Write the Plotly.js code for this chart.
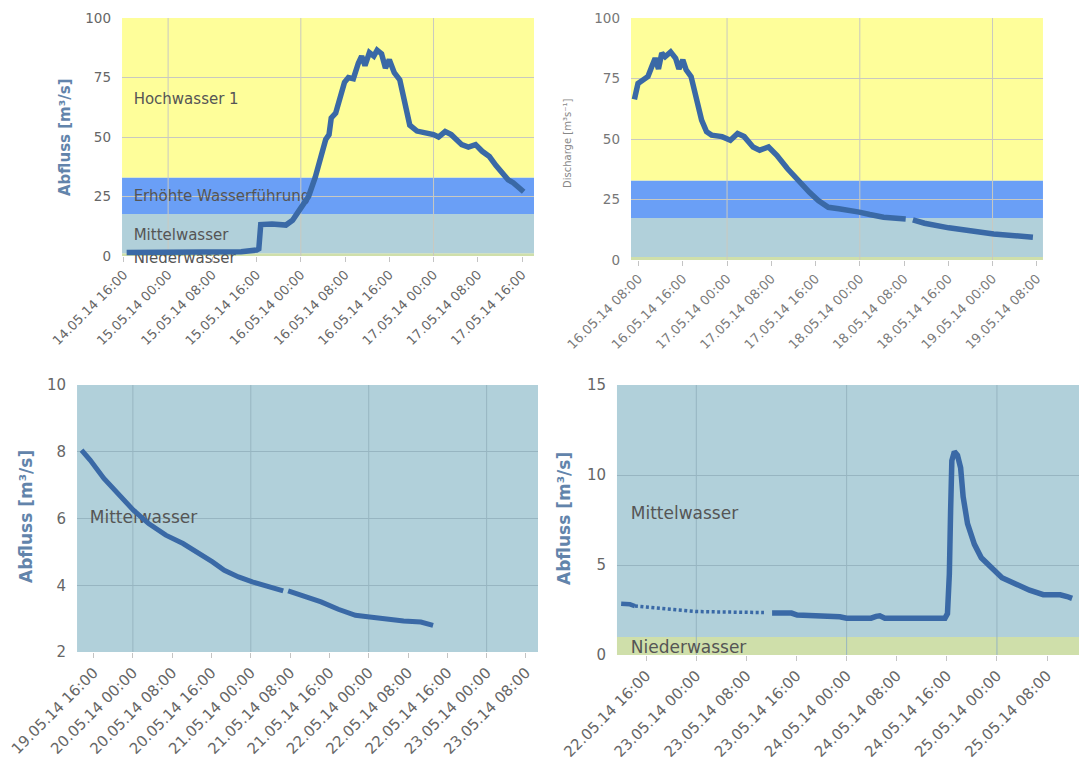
<!DOCTYPE html>
<html><head><meta charset="utf-8">
<script src="https://cdn.plot.ly/plotly-3.0.1.min.js"></script>
<style>html,body{margin:0;padding:0;background:#fff;} #chart{width:1079px;height:757px;}</style>
</head><body><div id="chart"></div><script>
// ---------- data ----------
const tlTimes = ['2014-05-14 16:30','2014-05-15 00:40','2014-05-15 13:12','2014-05-15 16:00','2014-05-15 16:24','2014-05-15 16:45','2014-05-15 18:48','2014-05-15 21:18','2014-05-15 22:30','2014-05-15 23:48',
 '2014-05-16 01:24','2014-05-16 02:36','2014-05-16 03:30','2014-05-16 04:30','2014-05-16 05:06','2014-05-16 05:30','2014-05-16 06:18','2014-05-16 07:00','2014-05-16 07:54','2014-05-16 08:36',
 '2014-05-16 09:30','2014-05-16 10:24','2014-05-16 11:00','2014-05-16 11:36','2014-05-16 12:24','2014-05-16 13:12','2014-05-16 13:48','2014-05-16 14:36','2014-05-16 15:18','2014-05-16 16:00',
 '2014-05-16 16:54','2014-05-16 17:54','2014-05-16 18:48','2014-05-16 19:42','2014-05-16 21:00','2014-05-16 22:12','2014-05-17 00:00','2014-05-17 00:54','2014-05-17 02:06','2014-05-17 03:12',
 '2014-05-17 05:06','2014-05-17 06:18','2014-05-17 07:36','2014-05-17 08:48','2014-05-17 10:06','2014-05-17 11:18','2014-05-17 12:36','2014-05-17 13:30','2014-05-17 14:24','2014-05-17 15:24','2014-05-17 16:18'];
const tlFlow = [1.5,1.6,1.8,2.5,3.0,13.2,13.5,13.0,15,19.5,
 25,33,40,49,51,58,60,65,73,75,
 74.5,81,84,80,85.5,84,86.5,85,79,82.5,
 77,74,64,55,52.5,52,51,50,52.3,51,
 46.8,45.8,46.8,44,41.8,38,34.5,32,30.8,28.5,27];

const trTimes = ['2014-05-16 07:15','2014-05-16 07:54','2014-05-16 08:48','2014-05-16 09:42','2014-05-16 10:24','2014-05-16 11:00','2014-05-16 11:36','2014-05-16 12:12','2014-05-16 12:48','2014-05-16 13:48',
 '2014-05-16 14:42','2014-05-16 15:18','2014-05-16 16:00','2014-05-16 16:36','2014-05-16 17:30','2014-05-16 18:24','2014-05-16 19:24','2014-05-16 20:18','2014-05-16 21:12','2014-05-16 23:06',
 '2014-05-17 00:00','2014-05-17 00:36','2014-05-17 01:54','2014-05-17 03:06','2014-05-17 04:42','2014-05-17 05:54','2014-05-17 07:30','2014-05-17 09:00','2014-05-17 10:54','2014-05-17 12:48',
 '2014-05-17 14:54','2014-05-17 16:30','2014-05-17 18:18','2014-05-17 20:12','2014-05-17 22:06','2014-05-17 23:54',
 '2014-05-18 01:48','2014-05-18 04:18','2014-05-18 08:18','2014-05-18 08:48','2014-05-18 09:36','2014-05-18 11:42','2014-05-18 16:06','2014-05-18 19:48',
 '2014-05-19 00:12','2014-05-19 07:18'];
const trFlow = [66.4,73,74.4,75.8,80,83.4,79,85.5,84,86,
 83.4,79,82.7,78.6,75.8,66,57.8,53,51.6,51,
 50.2,49.5,52.3,51,46.7,45.4,46.7,43.3,37.8,32.9,
 28,24.6,21.8,21.2,20.7,19.8,
 18.8,17.7,17,null,16.6,15.2,13.3,11.9,
 10.8,9.4];

const blTimes = ['2014-05-19 13:33','2014-05-19 15:18','2014-05-19 18:06','2014-05-19 20:54',
 '2014-05-20 00:06','2014-05-20 03:12','2014-05-20 06:42','2014-05-20 10:12','2014-05-20 13:42','2014-05-20 16:12','2014-05-20 18:36','2014-05-20 21:30',
 '2014-05-21 00:18','2014-05-21 03:48','2014-05-21 06:36','2014-05-21 07:06','2014-05-21 07:36','2014-05-21 10:48','2014-05-21 14:18','2014-05-21 17:48','2014-05-21 21:18',
 '2014-05-22 00:12','2014-05-22 03:36','2014-05-22 07:06','2014-05-22 10:36','2014-05-22 12:00','2014-05-22 13:06'];
const blFlow = [8.05,7.75,7.2,6.75,
 6.25,5.85,5.5,5.25,4.95,4.7,4.45,4.25,
 4.1,3.95,3.83,null,3.83,3.68,3.5,3.28,3.1,
 3.05,2.98,2.93,2.9,2.86,2.8];

const brDotTimes = ['2014-05-22 12:00','2014-05-22 13:24','2014-05-22 14:12','2014-05-22 16:12','2014-05-22 18:54','2014-05-22 21:06','2014-05-22 23:54','2014-05-23 02:36','2014-05-23 08:06','2014-05-23 10:48'];
const brDotFlow = [2.85,2.82,2.72,2.65,2.55,2.47,2.42,2.40,2.40,2.36];
const brTimes = ['2014-05-23 12:06','2014-05-23 15:12','2014-05-23 16:06','2014-05-23 18:30','2014-05-23 19:06','2014-05-23 22:54',
 '2014-05-24 00:00','2014-05-24 03:54','2014-05-24 04:42','2014-05-24 05:18','2014-05-24 06:06','2014-05-24 11:36','2014-05-24 15:42','2014-05-24 16:06','2014-05-24 16:24','2014-05-24 16:36',
 '2014-05-24 16:48','2014-05-24 17:12','2014-05-24 17:42','2014-05-24 18:12','2014-05-24 18:36','2014-05-24 19:18','2014-05-24 20:24','2014-05-24 21:30','2014-05-24 23:06',
 '2014-05-25 00:48','2014-05-25 03:00','2014-05-25 05:12','2014-05-25 07:24','2014-05-25 10:06','2014-05-25 11:12','2014-05-25 12:00'];
const brFlow = [2.33,2.33,2.22,2.2,2.15,2.13,
 2.05,2.05,2.15,2.18,2.05,2.05,2.05,2.3,4.5,8,
 10.8,11.3,11.1,10.4,8.8,7.3,6.15,5.4,4.85,
 4.3,3.95,3.6,3.35,3.35,3.25,3.15];

// band thresholds and names
const tlBandEdges = [0, 1.2, 17.7, 33, 100];
const tlBandNames = ['Niederwasser','Mittelwasser','Erhöhte Wasserführung','Hochwasser 1'];
const trBandEdges = [0, 1.3, 17.4, 32.9, 100];
const blBandEdges = [2, 10];
const blBandNames = ['Mittelwasser'];
const brBandEdges = [0, 1, 15];
const brBandNames = ['Niederwasser','Mittelwasser'];

// ---------- styling ----------
const FONT = 'DejaVu Sans';
const C_GREEN = '#cfdfaa', C_LBLUE = '#b1d0da', C_BLUE = '#6a9ff6', C_YELLOW = '#fefe9a';
const LINE = '#3a69a6';

const ranges = {
  x:  ['2014-05-14 15:40','2014-05-17 18:10'],
  x2: ['2014-05-16 06:38','2014-05-19 09:07'],
  x3: ['2014-05-19 12:38','2014-05-23 10:27'],
  x4: ['2014-05-22 11:20','2014-05-25 13:06']
};

function parse(s){const m=s.match(/(\d+)-(\d+)-(\d+) (\d+):(\d+)/);return Date.UTC(+m[1],+m[2]-1,+m[3],+m[4],+m[5]);}
function fmt(ms){const d=new Date(ms);const p=n=>String(n).padStart(2,'0');return d.getUTCFullYear()+'-'+p(d.getUTCMonth()+1)+'-'+p(d.getUTCDate())+' '+p(d.getUTCHours())+':'+p(d.getUTCMinutes());}
function addH(s,h){return fmt(parse(s)+h*3600000);}

const shapes = [];
function bands(xa, ya, edges, colors){
  for(let i=0;i<edges.length-1;i++){
    shapes.push({type:'rect', xref:xa+' domain', yref:ya, x0:0, x1:1, y0:edges[i], y1:edges[i+1],
      fillcolor:colors[i], line:{width:0}, layer:'below'});
  }
}
function vgrid(xa, ya, color){
  const r = ranges[xa]; const a=parse(r[0]), b=parse(r[1]);
  let d = Math.ceil(a/86400000)*86400000;
  for(; d<b; d+=86400000){
    const s = fmt(d);
    shapes.push({type:'line', xref:xa, yref:ya+' domain', x0:s, x1:s, y0:0, y1:1, line:{color:color,width:1}, layer:'below'});
  }
}
bands('x','y',tlBandEdges,[C_GREEN,C_LBLUE,C_BLUE,C_YELLOW]);
bands('x2','y2',trBandEdges,[C_GREEN,C_LBLUE,C_BLUE,C_YELLOW]);
bands('x3','y3',blBandEdges,[C_LBLUE]);
bands('x4','y4',brBandEdges,[C_GREEN,C_LBLUE]);
vgrid('x','y','#c9c9c0');
vgrid('x2','y2','#c9c9c0');
vgrid('x3','y3','#97b5c1');
vgrid('x4','y4','#97b5c1');

function label(xa, ya, x, y, text, size, clip, pos){
  return {type:'scatter', mode:'text', xaxis:xa, yaxis:ya, x:[x], y:[y], text:[text],
    textposition:pos||'middle right', textfont:{family:FONT,size:size,color:'#555'}, cliponaxis:clip!==false, hoverinfo:'skip'};
}
function line(xa, ya, x, y, w, dash){
  return {type:'scatter', mode:'lines', xaxis:xa, yaxis:ya, x:x, y:y,
    line:{color:LINE, width:w, dash:dash||'solid'}, connectgaps:false, hoverinfo:'skip'};
}

const data = [
  label('x','y', addH(ranges.x[0],2.1), 65.5, tlBandNames[3], 15),
  label('x','y', addH(ranges.x[0],2.1), 24.5, tlBandNames[2], 15),
  label('x','y', addH(ranges.x[0],2.1), 8.2, tlBandNames[1], 15),
  label('x','y', addH(ranges.x[0],2.1), 2, tlBandNames[0], 15, false, 'bottom right'),
  line('x','y', tlTimes, tlFlow, 5.5),
  line('x2','y2', trTimes, trFlow, 5.5),
  label('x3','y3', addH(ranges.x3[0],2.6), 6.0, blBandNames[0], 17),
  line('x3','y3', blTimes, blFlow, 5),
  label('x4','y4', addH(ranges.x4[0],2.2), 7.8, brBandNames[1], 17),
  label('x4','y4', addH(ranges.x4[0],2.2), 0.33, brBandNames[0], 17),
  line('x4','y4', brDotTimes.slice(0,3), brDotFlow.slice(0,3), 4.5),
  line('x4','y4', brDotTimes.slice(2), brDotFlow.slice(2), 3.5, '3px,2.5px'),
  line('x4','y4', brTimes, brFlow, 5.5)
];

function xax(key, domain, anchor, tick0, size, color){
  return {type:'date', domain:domain, anchor:anchor, range:ranges[key], tick0:tick0, dtick:8*3600000,
    tickformat:'%d.%m.%y %H:%M', tickangle:-45, ticks:'outside', ticklen:5, tickcolor:'#c4c4c4',
    tickfont:{family:FONT,size:size,color:color}, showgrid:false, zeroline:false, showline:false, fixedrange:true};
}
function yax(domain, anchor, range, dtick, size, color, grid){
  return {domain:domain, anchor:anchor, range:range, dtick:dtick, showgrid:true, gridcolor:grid, gridwidth:1,
    zeroline:false, showline:false, ticks:'', ticklabelstandoff:10,
    tickfont:{family:FONT,size:size,color:color}, fixedrange:true};
}

const layout = {
  width:1079, height:757, margin:{l:0,r:0,t:0,b:0}, paper_bgcolor:'#fff', plot_bgcolor:'#fff',
  showlegend:false, font:{family:FONT},
  xaxis:  xax('x',  [0.1131,0.4949], 'y',  '2014-05-14 16:00', 13, '#666'),
  yaxis:  yax([0.6618,0.9762], 'x',  [0,100], 25, 13.5, '#666', '#c9c9c0'),
  xaxis2: xax('x2', [0.5848,0.9666], 'y2', '2014-05-16 08:00', 13, '#7a7a7a'),
  yaxis2: yax([0.6565,0.9762], 'x2', [0,100], 25, 13.5, '#777', '#c9c9c0'),
  xaxis3: xax('x3', [0.0714,0.4986], 'y3', '2014-05-19 16:00', 15, '#666'),
  yaxis3: yax([0.1387,0.4914], 'x3', [2,10], 2, 15, '#666', '#97b5c1'),
  xaxis4: xax('x4', [0.5718,1.0], 'y4', '2014-05-22 16:00', 15, '#666'),
  yaxis4: yax([0.1347,0.4914], 'x4', [0,15], 5, 15, '#666', '#97b5c1'),
  shapes: shapes,
  annotations: [
    {text:'Abfluss [m³/s]', xref:'paper', yref:'paper', x:65/1079, y:1-137/757, showarrow:false, textangle:-90,
     font:{family:FONT,size:15,color:'#6284ab',weight:'bold'}, xanchor:'center', yanchor:'middle'},
    {text:'Discharge [m³s⁻¹]', xref:'paper', yref:'paper', x:567/1079, y:1-144/757, showarrow:false, textangle:-90,
     font:{family:FONT,size:10,color:'#888'}, xanchor:'center', yanchor:'middle'},
    {text:'Abfluss [m³/s]', xref:'paper', yref:'paper', x:26/1079, y:1-517/757, showarrow:false, textangle:-90,
     font:{family:FONT,size:17,color:'#6284ab',weight:'bold'}, xanchor:'center', yanchor:'middle'},
    {text:'Abfluss [m³/s]', xref:'paper', yref:'paper', x:564/1079, y:1-519/757, showarrow:false, textangle:-90,
     font:{family:FONT,size:17,color:'#6284ab',weight:'bold'}, xanchor:'center', yanchor:'middle'}
  ]
};

Plotly.newPlot('chart', data, layout, {displayModeBar:false, staticPlot:true});
</script></body></html>
